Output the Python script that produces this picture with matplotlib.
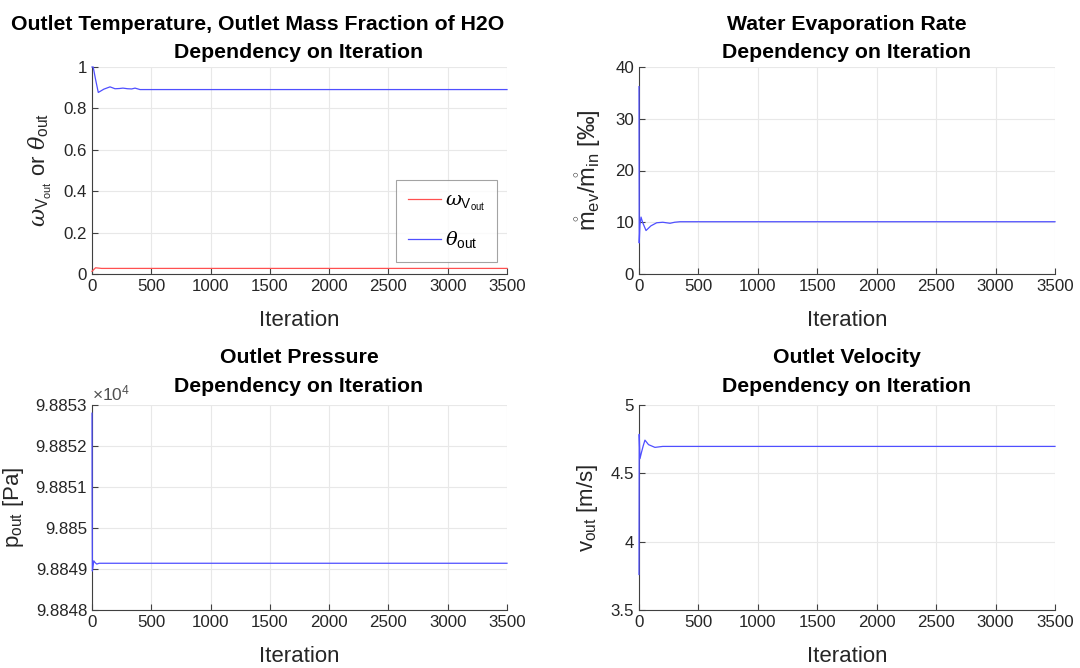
import matplotlib
matplotlib.use("Agg")
import matplotlib.pyplot as plt
from matplotlib.ticker import FuncFormatter

# --- данные ---
it_theta = [0, 10, 30, 53, 100, 152, 194, 230, 261, 300, 335, 363, 405, 3500]
theta_out = [1.0, 1.0, 0.94, 0.877, 0.893, 0.904, 0.895, 0.896, 0.898, 0.895, 0.894, 0.898, 0.891, 0.891]
it_omega = [0, 30, 80, 3500]
omega_out = [0.013, 0.030, 0.027, 0.027]

it_mev = [0, 2, 8, 17, 30, 59, 100, 149, 200, 261, 300, 345, 3500]
mev_ratio = [36.2, 6.0, 9.5, 11.0, 10.0, 8.4, 9.3, 9.9, 10.0, 9.8, 10.0, 10.1, 10.1]

it_p = [0, 1, 3, 6, 15, 25, 40, 60, 100, 3500]
p_out = [98852.8, 98850.8, 98848.95, 98849.0, 98849.2, 98849.16, 98849.12, 98849.14, 98849.14, 98849.14]

it_v = [0, 2, 8, 22, 35, 50, 80, 134, 200, 3500]
v_out = [3.76, 4.786, 4.607, 4.657, 4.70, 4.743, 4.71, 4.69, 4.697, 4.697]

x_ticks = [0, 500, 1000, 1500, 2000, 2500, 3000, 3500]

plt.rcParams['font.family'] = ['Liberation Sans', 'DejaVu Sans']
plt.rcParams['mathtext.fontset'] = 'custom'
plt.rcParams['mathtext.rm'] = 'Liberation Sans'
plt.rcParams['mathtext.it'] = 'DejaVu Serif:italic'
plt.rcParams['mathtext.bf'] = 'Liberation Sans:bold'

TXT = '#262626'
AX = '#404040'
RED = '#ff5050'
BLUE = '#4f4fff'
LBL = 16
TICK = 12.2

fig = plt.figure(figsize=(10.8, 6.68), dpi=100)
W, H = 1080, 668


def make_axes(x0, x1, ytop, ybot):
    ax = fig.add_axes([x0 / W, 1 - ybot / H, (x1 - x0) / W, (ybot - ytop) / H])
    for s in ['top', 'right']:
        ax.spines[s].set_visible(False)
    for s in ['left', 'bottom']:
        ax.spines[s].set_color(AX)
        ax.spines[s].set_linewidth(0.8)
    ax.tick_params(direction='in', length=4, width=0.8, colors=AX,
                   labelcolor=TXT, labelsize=TICK)
    ax.grid(True, color='#e8e8e8', linewidth=0.8)
    ax.set_axisbelow(True)
    ax.set_xlim(0, 3500)
    ax.set_xticks(x_ticks)
    ax.set_xlabel('Iteration', fontsize=LBL, color=TXT, labelpad=11.5)
    return ax


def title(cx, y, s):
    fig.text(cx / W, 1 - y / H, s, ha='center', va='baseline',
             fontsize=15.3, fontweight='bold')


# --- левый верхний ---
ax1 = make_axes(92, 507, 67, 274)
ax1.plot(it_omega, omega_out, color=RED, lw=0.9, zorder=3, clip_on=False,
         label=r'$\omega_{\mathrm{V}_{\mathrm{out}}}$')
ax1.plot(it_theta, theta_out, color=BLUE, lw=0.9, zorder=3, clip_on=False,
         label=r'$\theta_{\mathrm{out}}$')
ax1.set_ylim(0, 1)
ax1.set_yticks([0, 0.2, 0.4, 0.6, 0.8, 1])
ax1.yaxis.set_major_formatter(FuncFormatter(lambda v, p: '%g' % round(v, 6)))
ax1.set_ylabel(r'$\omega_{\mathrm{V}_{\mathrm{out}}}$ or $\theta_{\mathrm{out}}$',
               fontsize=LBL, color=TXT, labelpad=7)
leg = ax1.legend(loc='lower right', bbox_to_anchor=(0.975, 0.058), fontsize=14,
                 handlelength=1.7, frameon=True, fancybox=False, borderpad=0.6,
                 labelspacing=0.85, handletextpad=0.2, borderaxespad=0)
leg.get_frame().set_edgecolor('#8c8c8c')
leg.get_frame().set_linewidth(0.8)

# --- правый верхний ---
ax2 = make_axes(639, 1055, 67, 274)
ax2.plot(it_mev, mev_ratio, color=BLUE, lw=0.9, zorder=3, clip_on=False)
ax2.set_ylim(0, 40)
ax2.set_yticks([0, 10, 20, 30, 40])
ax2.set_ylabel(r'$\mathring{\mathrm{m}}_{\mathrm{ev}}/\mathring{\mathrm{m}}_{\mathrm{in}}$ [‰]',
               fontsize=LBL + 1, color=TXT, labelpad=9)

# --- левый нижний ---
ax3 = make_axes(92, 507, 405, 610)
ax3.plot(it_p, p_out, color=BLUE, lw=0.9, zorder=3, clip_on=False)
ax3.set_ylim(98848, 98853)
ax3.set_yticks([98848, 98849, 98850, 98851, 98852, 98853])
ax3.yaxis.set_major_formatter(FuncFormatter(lambda v, p: '%g' % round(v / 1e4, 6)))
ax3.set_ylabel(r'p$_{\mathrm{out}}$ [Pa]', fontsize=LBL, color=TXT, labelpad=6.5)
ax3.text(0.0, 1.01, r'$\times\mathrm{10}^{\mathrm{4}}$', transform=ax3.transAxes,
         fontsize=12.5, color='#505050', ha='left', va='bottom')

# --- правый нижний ---
ax4 = make_axes(639, 1055, 405, 610)
ax4.plot(it_v, v_out, color=BLUE, lw=0.9, zorder=3, clip_on=False)
ax4.set_ylim(3.5, 5)
ax4.set_yticks([3.5, 4, 4.5, 5])
ax4.yaxis.set_major_formatter(FuncFormatter(lambda v, p: '%g' % round(v, 6)))
ax4.set_ylabel(r'v$_{\mathrm{out}}$ [m/s]', fontsize=LBL, color=TXT, labelpad=8)

# заголовки
title(258, 30, 'Outlet Temperature, Outlet Mass Fraction of H2O')
title(299, 58, 'Dependency on Iteration')
title(847, 30, 'Water Evaporation Rate')
title(847, 58, 'Dependency on Iteration')
title(299, 363, 'Outlet Pressure')
title(299, 392, 'Dependency on Iteration')
title(847, 363, 'Outlet Velocity')
title(847, 392, 'Dependency on Iteration')

fig.savefig('out.png', dpi=100)
